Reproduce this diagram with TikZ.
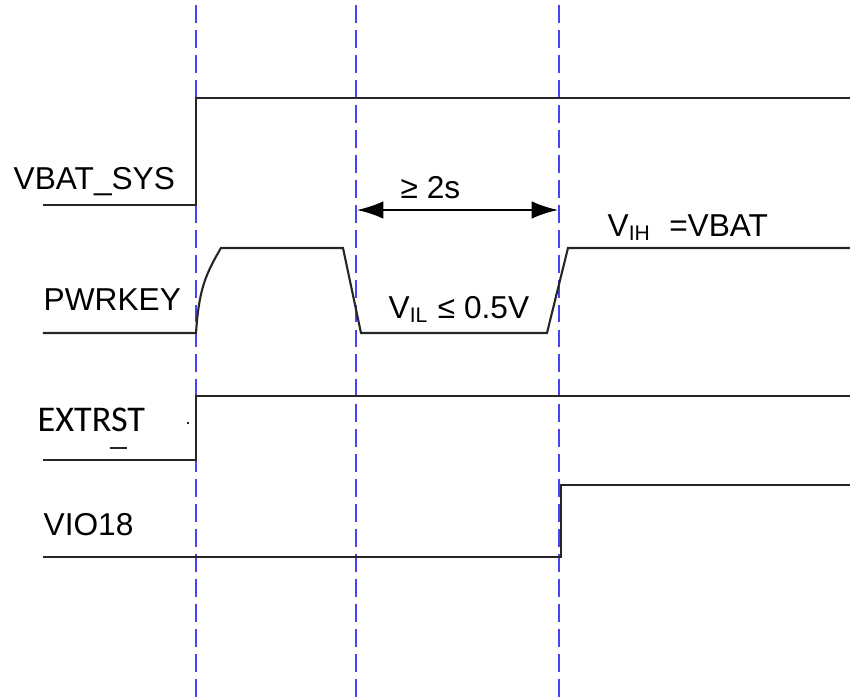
\documentclass[tikz,border=0pt]{standalone}
\usepackage{fontspec}
\setmainfont{Liberation Sans}
\newfontfamily\narrowfont{Carlito}
\usetikzlibrary{arrows.meta}
\definecolor{GuideBlue}{HTML}{4646F0}
\definecolor{WaveGrey}{HTML}{262626}

\begin{document}
\begin{tikzpicture}[x=0.01cm,y=-0.01cm,every node/.style={font=\fontsize{9}{10}\selectfont,inner sep=0pt},
  guide/.style={GuideBlue,line width=0.5pt,dash pattern=on 5.1pt off 2pt,dash phase=5.7pt},
  wave/.style={WaveGrey,line width=0.6pt},
  sig/.style={anchor=base west}]
\useasboundingbox (0,0) rectangle (850,700);
% guide lines
\foreach \gx in {196,356,559} \draw[guide] (\gx,0)--(\gx,700);
% signal labels
\node[sig] (vbatlbl) at (13,190){VBAT\_SYS};
\node[sig] (pwrlbl) at (43,311){PWRKEY};
\node[sig,font=\narrowfont\fontsize{10.3}{11}\selectfont] (extlbl) at (37,432){EXTRST};
\node[sig] (violbl) at (43,536){VIO18};
\draw[wave,line width=0.4pt] (110,448)--(127,448); \fill[WaveGrey] (187,422) rectangle (189,424);
% waveforms
\draw[wave] (43,205)--(196,205)--(196,98)--(850,98);
\draw[wave] (43,333)--(196,333) .. controls (199,290) and (205,275) .. (221,248)--(343,248)--(361,333)--(547,333)--(568,248)--(850,248);
\draw[wave] (43,460)--(196,460)--(196,396)--(850,396);
\draw[wave] (43,557)--(561,557)--(561,485)--(850,485);
% timing
\coordinate (tL) at (357,210); \coordinate (tR) at (558,210);
\draw[black,line width=0.6pt,{Latex[length=7.5pt,width=5pt]}-{Latex[length=7.5pt,width=5pt]}] (tL)--(tR);
\node[sig] (tmin) at (400,199){≥ 2s};
\node[sig] (vil) at (388,319){V\textsubscript{IL} ≤ 0.5V};
\node[sig] (vih) at (607,237){V\textsubscript{IH}\ \ =VBAT};
\end{tikzpicture}
\end{document}
